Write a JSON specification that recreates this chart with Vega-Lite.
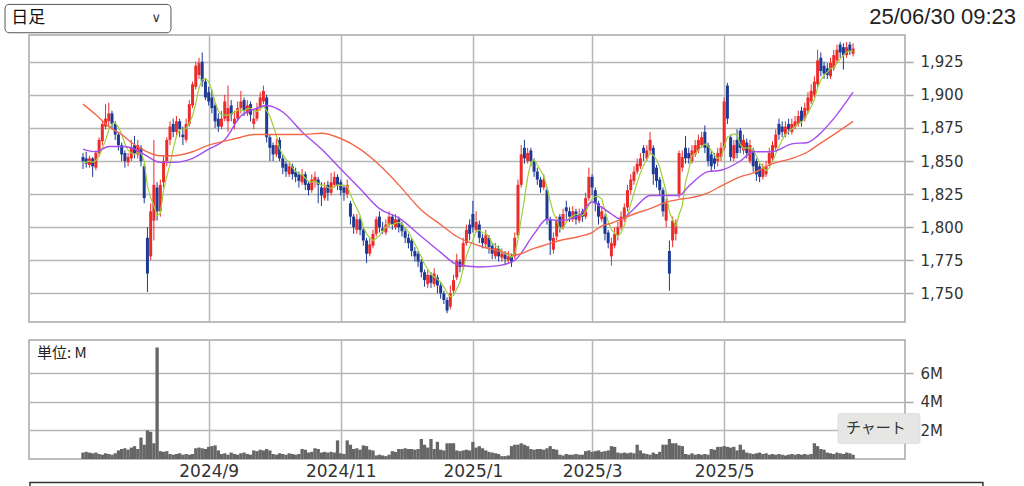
{
"$schema":"https://vega.github.io/schema/vega-lite/v6.json",
"background":"white",
"padding":{"left":3,"top":3,"right":5,"bottom":5},
"spacing":16,
"config":{"view":{"stroke":"#a8a8a8","strokeWidth":1.5},"axis":{"labelFont":"DejaVu Sans","labelColor":"#333","gridColor":"#b6b6b6","gridWidth":1.5,"tickColor":"#a8a8a8","tickWidth":1.5}},
"datasets":{
"k":[
{"i":0,"o":1853,"h":1856,"l":1844,"c":1850,"v":450000,"m":1849},
{"i":1,"o":1852,"h":1857,"l":1845,"c":1848,"v":500000,"m":1849},
{"i":2,"o":1847,"h":1854,"l":1845,"c":1852,"v":450000,"m":1850},
{"i":3,"o":1852,"h":1853,"l":1838,"c":1846,"v":400000,"m":1849},
{"i":4,"o":1845,"h":1858,"l":1843,"c":1856,"v":450000,"m":1850.4},
{"i":5,"o":1856,"h":1868,"l":1853,"c":1866,"v":350000,"m":1853.6},
{"i":6,"o":1865,"h":1880,"l":1862,"c":1878,"v":300000,"m":1859.6},
{"i":7,"o":1876,"h":1893,"l":1874,"c":1882,"v":400000,"m":1865.6},
{"i":8,"o":1880,"h":1894,"l":1876,"c":1886,"v":350000,"m":1873.6},
{"i":9,"o":1886,"h":1888,"l":1874,"c":1878,"v":300000,"m":1878},
{"i":10,"o":1878,"h":1880,"l":1866,"c":1870,"v":400000,"m":1878.8},
{"i":11,"o":1870,"h":1872,"l":1858,"c":1862,"v":600000,"m":1875.6},
{"i":12,"o":1862,"h":1864,"l":1850,"c":1855,"v":700000,"m":1870.2},
{"i":13,"o":1856,"h":1858,"l":1845,"c":1850,"v":750000,"m":1863},
{"i":14,"o":1849,"h":1856,"l":1846,"c":1853,"v":650000,"m":1858},
{"i":15,"o":1852,"h":1866,"l":1850,"c":1860,"v":800000,"m":1856},
{"i":16,"o":1862,"h":1869,"l":1852,"c":1856,"v":900000,"m":1854.8},
{"i":17,"o":1855,"h":1866,"l":1852,"c":1862,"v":700000,"m":1856.2},
{"i":18,"o":1860,"h":1862,"l":1846,"c":1850,"v":1500000,"m":1856.2},
{"i":19,"o":1846,"h":1848,"l":1818,"c":1822,"v":1000000,"m":1850},
{"i":20,"o":1792,"h":1800,"l":1751,"c":1765,"v":2000000,"m":1831},
{"i":21,"o":1778,"h":1818,"l":1775,"c":1812,"v":1900000,"m":1822.2},
{"i":22,"o":1805,"h":1866,"l":1790,"c":1832,"v":1100000,"m":1816.2},
{"i":23,"o":1830,"h":1834,"l":1805,"c":1812,"v":7800000,"m":1808.6},
{"i":24,"o":1812,"h":1836,"l":1808,"c":1832,"v":550000,"m":1810.6},
{"i":25,"o":1834,"h":1854,"l":1830,"c":1850,"v":500000,"m":1827.6},
{"i":26,"o":1850,"h":1868,"l":1846,"c":1866,"v":550000,"m":1838.4},
{"i":27,"o":1866,"h":1880,"l":1862,"c":1876,"v":350000,"m":1847.2},
{"i":28,"o":1878,"h":1882,"l":1868,"c":1872,"v":300000,"m":1859.2},
{"i":29,"o":1872,"h":1884,"l":1868,"c":1880,"v":350000,"m":1868.8},
{"i":30,"o":1880,"h":1882,"l":1868,"c":1874,"v":400000,"m":1873.6},
{"i":31,"o":1870,"h":1876,"l":1862,"c":1868,"v":300000,"m":1874},
{"i":32,"o":1866,"h":1882,"l":1864,"c":1878,"v":350000,"m":1874.4},
{"i":33,"o":1878,"h":1896,"l":1876,"c":1893,"v":300000,"m":1878.6},
{"i":34,"o":1892,"h":1910,"l":1890,"c":1908,"v":350000,"m":1884.2},
{"i":35,"o":1906,"h":1925,"l":1904,"c":1922,"v":750000,"m":1893.8},
{"i":36,"o":1915,"h":1928,"l":1912,"c":1924,"v":800000,"m":1905},
{"i":37,"o":1925,"h":1932,"l":1906,"c":1910,"v":750000,"m":1911.4},
{"i":38,"o":1910,"h":1912,"l":1896,"c":1898,"v":700000,"m":1912.4},
{"i":39,"o":1902,"h":1906,"l":1892,"c":1895,"v":850000,"m":1909.8},
{"i":40,"o":1898,"h":1904,"l":1886,"c":1890,"v":900000,"m":1903.4},
{"i":41,"o":1892,"h":1894,"l":1875,"c":1880,"v":950000,"m":1894.6},
{"i":42,"o":1882,"h":1886,"l":1872,"c":1876,"v":600000,"m":1887.8},
{"i":43,"o":1876,"h":1888,"l":1874,"c":1882,"v":350000,"m":1884.6},
{"i":44,"o":1882,"h":1900,"l":1880,"c":1895,"v":400000,"m":1884.6},
{"i":45,"o":1880,"h":1907,"l":1872,"c":1890,"v":300000,"m":1884.6},
{"i":46,"o":1892,"h":1896,"l":1880,"c":1885,"v":450000,"m":1885.6},
{"i":47,"o":1878,"h":1888,"l":1874,"c":1882,"v":350000,"m":1886.8},
{"i":48,"o":1882,"h":1895,"l":1880,"c":1890,"v":300000,"m":1888.4},
{"i":49,"o":1890,"h":1903,"l":1886,"c":1895,"v":400000,"m":1888.4},
{"i":50,"o":1896,"h":1898,"l":1884,"c":1888,"v":450000,"m":1888},
{"i":51,"o":1886,"h":1896,"l":1884,"c":1892,"v":350000,"m":1889.4},
{"i":52,"o":1893,"h":1895,"l":1880,"c":1885,"v":300000,"m":1890},
{"i":53,"o":1878,"h":1888,"l":1874,"c":1882,"v":600000,"m":1888.4},
{"i":54,"o":1882,"h":1894,"l":1880,"c":1890,"v":550000,"m":1887.4},
{"i":55,"o":1890,"h":1902,"l":1888,"c":1898,"v":650000,"m":1889.4},
{"i":56,"o":1895,"h":1907,"l":1893,"c":1903,"v":600000,"m":1891.6},
{"i":57,"o":1898,"h":1900,"l":1864,"c":1868,"v":700000,"m":1888.2},
{"i":58,"o":1868,"h":1870,"l":1850,"c":1860,"v":600000,"m":1883.8},
{"i":59,"o":1862,"h":1864,"l":1850,"c":1855,"v":350000,"m":1876.8},
{"i":60,"o":1855,"h":1867,"l":1853,"c":1862,"v":300000,"m":1869.6},
{"i":61,"o":1866,"h":1868,"l":1850,"c":1852,"v":400000,"m":1859.4},
{"i":62,"o":1852,"h":1855,"l":1840,"c":1845,"v":350000,"m":1854.8},
{"i":63,"o":1848,"h":1850,"l":1838,"c":1842,"v":300000,"m":1851.2},
{"i":64,"o":1840,"h":1850,"l":1838,"c":1846,"v":400000,"m":1849.4},
{"i":65,"o":1846,"h":1848,"l":1836,"c":1840,"v":350000,"m":1845},
{"i":66,"o":1842,"h":1845,"l":1834,"c":1838,"v":300000,"m":1842.2},
{"i":67,"o":1840,"h":1842,"l":1830,"c":1835,"v":350000,"m":1840.2},
{"i":68,"o":1834,"h":1844,"l":1832,"c":1840,"v":700000,"m":1839.8},
{"i":69,"o":1840,"h":1842,"l":1828,"c":1832,"v":650000,"m":1837},
{"i":70,"o":1833,"h":1835,"l":1824,"c":1828,"v":450000,"m":1834.6},
{"i":71,"o":1828,"h":1840,"l":1826,"c":1836,"v":500000,"m":1834.2},
{"i":72,"o":1834,"h":1842,"l":1830,"c":1838,"v":750000,"m":1834.8},
{"i":73,"o":1836,"h":1838,"l":1818,"c":1832,"v":700000,"m":1833.2},
{"i":74,"o":1830,"h":1834,"l":1816,"c":1824,"v":450000,"m":1831.6},
{"i":75,"o":1822,"h":1834,"l":1820,"c":1830,"v":500000,"m":1832},
{"i":76,"o":1832,"h":1835,"l":1820,"c":1826,"v":450000,"m":1830},
{"i":77,"o":1826,"h":1841,"l":1824,"c":1834,"v":500000,"m":1829.2},
{"i":78,"o":1832,"h":1842,"l":1830,"c":1838,"v":450000,"m":1830.4},
{"i":79,"o":1838,"h":1840,"l":1828,"c":1832,"v":1300000,"m":1832},
{"i":80,"o":1834,"h":1836,"l":1824,"c":1828,"v":400000,"m":1831.6},
{"i":81,"o":1830,"h":1832,"l":1820,"c":1826,"v":350000,"m":1831.6},
{"i":82,"o":1825,"h":1836,"l":1822,"c":1832,"v":1300000,"m":1831.2},
{"i":83,"o":1818,"h":1820,"l":1802,"c":1808,"v":1000000,"m":1825.2},
{"i":84,"o":1808,"h":1810,"l":1795,"c":1800,"v":700000,"m":1818.8},
{"i":85,"o":1798,"h":1810,"l":1795,"c":1806,"v":750000,"m":1814.4},
{"i":86,"o":1806,"h":1808,"l":1794,"c":1798,"v":650000,"m":1808.8},
{"i":87,"o":1798,"h":1800,"l":1786,"c":1790,"v":950000,"m":1800.4},
{"i":88,"o":1790,"h":1792,"l":1773,"c":1780,"v":900000,"m":1794.8},
{"i":89,"o":1780,"h":1792,"l":1778,"c":1787,"v":650000,"m":1792.2},
{"i":90,"o":1786,"h":1798,"l":1784,"c":1795,"v":600000,"m":1790},
{"i":91,"o":1795,"h":1808,"l":1793,"c":1806,"v":250000,"m":1791.6},
{"i":92,"o":1808,"h":1812,"l":1796,"c":1800,"v":300000,"m":1793.6},
{"i":93,"o":1799,"h":1804,"l":1795,"c":1797,"v":250000,"m":1797},
{"i":94,"o":1796,"h":1806,"l":1794,"c":1802,"v":200000,"m":1800},
{"i":95,"o":1802,"h":1812,"l":1800,"c":1808,"v":300000,"m":1802.6},
{"i":96,"o":1808,"h":1810,"l":1798,"c":1802,"v":550000,"m":1801.8},
{"i":97,"o":1800,"h":1810,"l":1798,"c":1806,"v":500000,"m":1803},
{"i":98,"o":1806,"h":1808,"l":1796,"c":1800,"v":700000,"m":1803.6},
{"i":99,"o":1802,"h":1804,"l":1793,"c":1797,"v":700000,"m":1802.6},
{"i":100,"o":1797,"h":1800,"l":1788,"c":1792,"v":750000,"m":1799.4},
{"i":101,"o":1792,"h":1795,"l":1784,"c":1788,"v":700000,"m":1796.6},
{"i":102,"o":1790,"h":1792,"l":1778,"c":1782,"v":700000,"m":1791.8},
{"i":103,"o":1782,"h":1785,"l":1774,"c":1778,"v":650000,"m":1787.4},
{"i":104,"o":1780,"h":1782,"l":1770,"c":1774,"v":700000,"m":1782.8},
{"i":105,"o":1774,"h":1776,"l":1762,"c":1766,"v":1400000,"m":1777.6},
{"i":106,"o":1766,"h":1768,"l":1755,"c":1760,"v":1000000,"m":1772},
{"i":107,"o":1757,"h":1768,"l":1754,"c":1764,"v":800000,"m":1768.4},
{"i":108,"o":1764,"h":1766,"l":1754,"c":1758,"v":1400000,"m":1764.4},
{"i":109,"o":1757,"h":1769,"l":1755,"c":1765,"v":700000,"m":1762.6},
{"i":110,"o":1762,"h":1764,"l":1750,"c":1756,"v":1200000,"m":1760.6},
{"i":111,"o":1756,"h":1758,"l":1746,"c":1750,"v":650000,"m":1758.6},
{"i":112,"o":1750,"h":1752,"l":1742,"c":1745,"v":600000,"m":1754.8},
{"i":113,"o":1745,"h":1747,"l":1735,"c":1737,"v":1100000,"m":1750.6},
{"i":114,"o":1740,"h":1756,"l":1738,"c":1750,"v":1100000,"m":1747.6},
{"i":115,"o":1752,"h":1764,"l":1750,"c":1760,"v":1100000,"m":1748.4},
{"i":116,"o":1762,"h":1780,"l":1760,"c":1775,"v":600000,"m":1753.4},
{"i":117,"o":1774,"h":1776,"l":1766,"c":1770,"v":550000,"m":1758.4},
{"i":118,"o":1770,"h":1792,"l":1768,"c":1788,"v":600000,"m":1768.6},
{"i":119,"o":1788,"h":1802,"l":1786,"c":1798,"v":650000,"m":1778.2},
{"i":120,"o":1802,"h":1806,"l":1790,"c":1795,"v":600000,"m":1785.2},
{"i":121,"o":1810,"h":1820,"l":1796,"c":1800,"v":1200000,"m":1790.2},
{"i":122,"o":1798,"h":1812,"l":1796,"c":1804,"v":800000,"m":1797},
{"i":123,"o":1802,"h":1805,"l":1788,"c":1792,"v":900000,"m":1797.8},
{"i":124,"o":1792,"h":1795,"l":1784,"c":1788,"v":750000,"m":1795.8},
{"i":125,"o":1787,"h":1798,"l":1785,"c":1794,"v":600000,"m":1795.6},
{"i":126,"o":1792,"h":1794,"l":1780,"c":1785,"v":500000,"m":1792.6},
{"i":127,"o":1786,"h":1788,"l":1776,"c":1780,"v":450000,"m":1787.8},
{"i":128,"o":1778,"h":1788,"l":1776,"c":1784,"v":400000,"m":1786.2},
{"i":129,"o":1784,"h":1786,"l":1774,"c":1778,"v":350000,"m":1784.2},
{"i":130,"o":1777,"h":1784,"l":1774,"c":1780,"v":200000,"m":1781.4},
{"i":131,"o":1780,"h":1782,"l":1772,"c":1776,"v":200000,"m":1779.6},
{"i":132,"o":1775,"h":1782,"l":1773,"c":1778,"v":250000,"m":1779.2},
{"i":133,"o":1778,"h":1780,"l":1770,"c":1774,"v":900000,"m":1777.2},
{"i":134,"o":1778,"h":1796,"l":1776,"c":1792,"v":1000000,"m":1780},
{"i":135,"o":1794,"h":1836,"l":1792,"c":1832,"v":1000000,"m":1790.4},
{"i":136,"o":1832,"h":1862,"l":1830,"c":1855,"v":1100000,"m":1806.2},
{"i":137,"o":1860,"h":1866,"l":1848,"c":1852,"v":1000000,"m":1821},
{"i":138,"o":1850,"h":1860,"l":1848,"c":1856,"v":900000,"m":1837.4},
{"i":139,"o":1858,"h":1860,"l":1846,"c":1850,"v":700000,"m":1849},
{"i":140,"o":1850,"h":1852,"l":1838,"c":1842,"v":650000,"m":1851},
{"i":141,"o":1842,"h":1845,"l":1832,"c":1836,"v":700000,"m":1847.2},
{"i":142,"o":1836,"h":1838,"l":1826,"c":1830,"v":700000,"m":1842.8},
{"i":143,"o":1830,"h":1840,"l":1828,"c":1836,"v":650000,"m":1838.8},
{"i":144,"o":1828,"h":1830,"l":1802,"c":1806,"v":750000,"m":1830},
{"i":145,"o":1806,"h":1808,"l":1779,"c":1790,"v":900000,"m":1819.6},
{"i":146,"o":1783,"h":1796,"l":1780,"c":1792,"v":700000,"m":1810.8},
{"i":147,"o":1793,"h":1808,"l":1790,"c":1805,"v":650000,"m":1805.8},
{"i":148,"o":1808,"h":1810,"l":1796,"c":1800,"v":300000,"m":1798.6},
{"i":149,"o":1800,"h":1814,"l":1798,"c":1810,"v":250000,"m":1799.4},
{"i":150,"o":1815,"h":1820,"l":1806,"c":1812,"v":350000,"m":1803.8},
{"i":151,"o":1812,"h":1815,"l":1804,"c":1808,"v":300000,"m":1807},
{"i":152,"o":1806,"h":1816,"l":1804,"c":1812,"v":300000,"m":1808.4},
{"i":153,"o":1812,"h":1814,"l":1802,"c":1806,"v":350000,"m":1809.6},
{"i":154,"o":1805,"h":1814,"l":1803,"c":1810,"v":300000,"m":1809.6},
{"i":155,"o":1812,"h":1814,"l":1804,"c":1808,"v":300000,"m":1808.8},
{"i":156,"o":1808,"h":1826,"l":1806,"c":1822,"v":550000,"m":1811.6},
{"i":157,"o":1822,"h":1845,"l":1820,"c":1838,"v":600000,"m":1816.8},
{"i":158,"o":1838,"h":1840,"l":1824,"c":1830,"v":500000,"m":1821.6},
{"i":159,"o":1828,"h":1830,"l":1812,"c":1818,"v":550000,"m":1823.2},
{"i":160,"o":1818,"h":1820,"l":1802,"c":1808,"v":600000,"m":1823.2},
{"i":161,"o":1806,"h":1816,"l":1804,"c":1812,"v":500000,"m":1821.2},
{"i":162,"o":1808,"h":1810,"l":1790,"c":1795,"v":550000,"m":1812.6},
{"i":163,"o":1796,"h":1798,"l":1784,"c":1788,"v":600000,"m":1804.2},
{"i":164,"o":1778,"h":1792,"l":1771,"c":1788,"v":900000,"m":1798.2},
{"i":165,"o":1786,"h":1800,"l":1784,"c":1795,"v":850000,"m":1795.6},
{"i":166,"o":1794,"h":1804,"l":1790,"c":1800,"v":450000,"m":1793.2},
{"i":167,"o":1800,"h":1812,"l":1798,"c":1808,"v":400000,"m":1795.8},
{"i":168,"o":1806,"h":1818,"l":1804,"c":1815,"v":450000,"m":1801.2},
{"i":169,"o":1815,"h":1832,"l":1812,"c":1828,"v":400000,"m":1809.2},
{"i":170,"o":1828,"h":1840,"l":1825,"c":1836,"v":450000,"m":1817.4},
{"i":171,"o":1835,"h":1846,"l":1832,"c":1842,"v":400000,"m":1825.8},
{"i":172,"o":1842,"h":1852,"l":1840,"c":1848,"v":1000000,"m":1833.8},
{"i":173,"o":1846,"h":1856,"l":1844,"c":1852,"v":600000,"m":1841.2},
{"i":174,"o":1860,"h":1862,"l":1850,"c":1856,"v":400000,"m":1846.8},
{"i":175,"o":1852,"h":1862,"l":1850,"c":1858,"v":350000,"m":1851.2},
{"i":176,"o":1858,"h":1872,"l":1855,"c":1866,"v":300000,"m":1856},
{"i":177,"o":1860,"h":1862,"l":1832,"c":1840,"v":450000,"m":1854.4},
{"i":178,"o":1845,"h":1847,"l":1830,"c":1835,"v":350000,"m":1851},
{"i":179,"o":1836,"h":1838,"l":1824,"c":1828,"v":500000,"m":1845.4},
{"i":180,"o":1828,"h":1830,"l":1808,"c":1812,"v":1000000,"m":1836.2},
{"i":181,"o":1805,"h":1822,"l":1800,"c":1818,"v":1000000,"m":1826.6},
{"i":182,"o":1782,"h":1790,"l":1752,"c":1765,"v":1400000,"m":1811.6},
{"i":183,"o":1790,"h":1808,"l":1785,"c":1805,"v":1100000,"m":1805.6},
{"i":184,"o":1795,"h":1806,"l":1790,"c":1803,"v":1100000,"m":1800.6},
{"i":185,"o":1825,"h":1858,"l":1822,"c":1856,"v":950000,"m":1809.4},
{"i":186,"o":1845,"h":1858,"l":1842,"c":1853,"v":900000,"m":1816.4},
{"i":187,"o":1860,"h":1869,"l":1848,"c":1852,"v":350000,"m":1833.8},
{"i":188,"o":1856,"h":1860,"l":1848,"c":1852,"v":300000,"m":1843.2},
{"i":189,"o":1850,"h":1862,"l":1848,"c":1858,"v":400000,"m":1854.2},
{"i":190,"o":1855,"h":1866,"l":1853,"c":1862,"v":300000,"m":1855.4},
{"i":191,"o":1858,"h":1870,"l":1856,"c":1866,"v":350000,"m":1858},
{"i":192,"o":1862,"h":1872,"l":1860,"c":1868,"v":300000,"m":1861.2},
{"i":193,"o":1872,"h":1877,"l":1856,"c":1860,"v":350000,"m":1862.8},
{"i":194,"o":1862,"h":1864,"l":1846,"c":1850,"v":300000,"m":1861.2},
{"i":195,"o":1855,"h":1858,"l":1842,"c":1846,"v":700000,"m":1858},
{"i":196,"o":1852,"h":1856,"l":1844,"c":1848,"v":650000,"m":1854.4},
{"i":197,"o":1850,"h":1860,"l":1846,"c":1856,"v":850000,"m":1852},
{"i":198,"o":1853,"h":1864,"l":1850,"c":1860,"v":850000,"m":1852},
{"i":199,"o":1860,"h":1898,"l":1858,"c":1895,"v":900000,"m":1861},
{"i":200,"o":1907,"h":1909,"l":1878,"c":1882,"v":850000,"m":1868.2},
{"i":201,"o":1868,"h":1870,"l":1850,"c":1853,"v":800000,"m":1869.2},
{"i":202,"o":1852,"h":1866,"l":1850,"c":1862,"v":850000,"m":1870.4},
{"i":203,"o":1866,"h":1874,"l":1852,"c":1856,"v":600000,"m":1869.6},
{"i":204,"o":1873,"h":1875,"l":1856,"c":1860,"v":1000000,"m":1862.6},
{"i":205,"o":1858,"h":1870,"l":1855,"c":1866,"v":650000,"m":1859.4},
{"i":206,"o":1864,"h":1867,"l":1852,"c":1856,"v":450000,"m":1860},
{"i":207,"o":1850,"h":1866,"l":1848,"c":1862,"v":400000,"m":1860},
{"i":208,"o":1858,"h":1860,"l":1842,"c":1846,"v":350000,"m":1858},
{"i":209,"o":1850,"h":1852,"l":1835,"c":1840,"v":400000,"m":1854},
{"i":210,"o":1846,"h":1848,"l":1834,"c":1838,"v":450000,"m":1848.4},
{"i":211,"o":1838,"h":1848,"l":1836,"c":1844,"v":350000,"m":1846},
{"i":212,"o":1840,"h":1850,"l":1838,"c":1846,"v":400000,"m":1842.8},
{"i":213,"o":1848,"h":1860,"l":1846,"c":1856,"v":300000,"m":1844.8},
{"i":214,"o":1852,"h":1865,"l":1850,"c":1862,"v":350000,"m":1849.2},
{"i":215,"o":1860,"h":1874,"l":1858,"c":1870,"v":300000,"m":1855.6},
{"i":216,"o":1878,"h":1882,"l":1866,"c":1870,"v":350000,"m":1860.8},
{"i":217,"o":1876,"h":1880,"l":1868,"c":1872,"v":300000,"m":1866},
{"i":218,"o":1870,"h":1880,"l":1868,"c":1876,"v":250000,"m":1870},
{"i":219,"o":1878,"h":1882,"l":1870,"c":1874,"v":300000,"m":1872.4},
{"i":220,"o":1872,"h":1882,"l":1870,"c":1878,"v":350000,"m":1874},
{"i":221,"o":1876,"h":1884,"l":1874,"c":1880,"v":300000,"m":1876},
{"i":222,"o":1878,"h":1888,"l":1876,"c":1884,"v":350000,"m":1878.4},
{"i":223,"o":1888,"h":1891,"l":1876,"c":1880,"v":300000,"m":1879.2},
{"i":224,"o":1882,"h":1894,"l":1880,"c":1890,"v":350000,"m":1882.4},
{"i":225,"o":1888,"h":1902,"l":1886,"c":1898,"v":300000,"m":1886.4},
{"i":226,"o":1895,"h":1908,"l":1893,"c":1903,"v":350000,"m":1891},
{"i":227,"o":1900,"h":1914,"l":1898,"c":1910,"v":1100000,"m":1896.2},
{"i":228,"o":1908,"h":1934,"l":1906,"c":1926,"v":900000,"m":1905.4},
{"i":229,"o":1928,"h":1932,"l":1914,"c":1918,"v":700000,"m":1911},
{"i":230,"o":1922,"h":1925,"l":1912,"c":1916,"v":650000,"m":1914.6},
{"i":231,"o":1920,"h":1924,"l":1912,"c":1915,"v":450000,"m":1917},
{"i":232,"o":1914,"h":1928,"l":1912,"c":1924,"v":400000,"m":1919.8},
{"i":233,"o":1920,"h":1934,"l":1918,"c":1930,"v":350000,"m":1920.6},
{"i":234,"o":1926,"h":1938,"l":1924,"c":1934,"v":450000,"m":1923.8},
{"i":235,"o":1938,"h":1940,"l":1928,"c":1932,"v":400000,"m":1927},
{"i":236,"o":1936,"h":1939,"l":1919,"c":1930,"v":350000,"m":1930},
{"i":237,"o":1930,"h":1940,"l":1928,"c":1936,"v":450000,"m":1932.4},
{"i":238,"o":1938,"h":1940,"l":1930,"c":1933,"v":400000,"m":1933},
{"i":239,"o":1931,"h":1939,"l":1929,"c":1935,"v":300000,"m":1933.2}
],
"ma":[
{"i":0,"m25":1859,"m75":1893},{"i":4,"m25":1857,"m75":1885},{"i":8,"m25":1861,"m75":1876},{"i":12,"m25":1861,"m75":1870},
{"i":15,"m25":1860,"m75":1864},{"i":19,"m25":1855,"m75":1858},{"i":24,"m25":1849,"m75":1854},{"i":28,"m25":1849,"m75":1854},
{"i":34,"m25":1852,"m75":1857},{"i":39,"m25":1859,"m75":1862},{"i":44,"m25":1866,"m75":1865},{"i":49,"m25":1884,"m75":1868},
{"i":53,"m25":1889,"m75":1870},{"i":57,"m25":1892,"m75":1870},{"i":62,"m25":1887,"m75":1870},{"i":68,"m25":1872,"m75":1870},
{"i":74,"m25":1859,"m75":1871},{"i":80,"m25":1844,"m75":1867},{"i":86,"m25":1829,"m75":1859},{"i":92,"m25":1814,"m75":1847},
{"i":98,"m25":1807,"m75":1832},{"i":105,"m25":1793,"m75":1813},{"i":111,"m25":1781,"m75":1802},{"i":116,"m25":1772,"m75":1793},
{"i":123,"m25":1770,"m75":1786},{"i":129,"m25":1771,"m75":1782},{"i":134,"m25":1775,"m75":1779},{"i":140,"m25":1795,"m75":1784},
{"i":144,"m25":1806,"m75":1787},{"i":148,"m25":1805,"m75":1790},{"i":154,"m25":1809,"m75":1793},{"i":158,"m25":1819,"m75":1796},
{"i":161,"m25":1815,"m75":1801},{"i":164,"m25":1810,"m75":1803},{"i":167,"m25":1806,"m75":1806},{"i":171,"m25":1814,"m75":1810},
{"i":176,"m25":1824,"m75":1814},{"i":181,"m25":1824,"m75":1819},{"i":185,"m25":1824,"m75":1821},{"i":188,"m25":1831,"m75":1822},
{"i":194,"m25":1842,"m75":1826},{"i":198,"m25":1843,"m75":1831},{"i":204,"m25":1850,"m75":1838},{"i":208,"m25":1857,"m75":1841},
{"i":214,"m25":1857,"m75":1848},{"i":220,"m25":1863,"m75":1852},{"i":225,"m25":1864,"m75":1857},{"i":228,"m25":1869,"m75":1862},
{"i":233,"m25":1882,"m75":1870},{"i":239,"m25":1902,"m75":1880}
]
},
"vconcat":[
{
"width":876,"height":287,
"data":{"name":"k"},
"layer":[
{"mark":{"type":"rule","strokeWidth":1},
 "encoding":{
  "x":{"field":"i","type":"quantitative","title":null,"scale":{"domain":[-16.76,255.12],"nice":false,"zero":false,"padding":0},
       "axis":{"values":[39,80,121,158,199],"labels":false,"ticks":false,"domain":false,"grid":true,"title":null}},
  "y":{"field":"l","type":"quantitative","title":null,"scale":{"domain":[1728.4,1945.2],"nice":false,"zero":false,"padding":0},
       "axis":{"orient":"right","values":[1750,1775,1800,1825,1850,1875,1900,1925],"labelExpr":"format(datum.value, ',')","tickSize":8,"labelFontSize":15,"labelPadding":7,"domain":false,"grid":true,"title":null}},
  "y2":{"field":"h"},
  "color":{"condition":{"test":"datum.c > datum.o","value":"#ee2b2b"},"value":"#1d3b94"}}},
{"mark":{"type":"bar","size":3},
 "encoding":{
  "x":{"field":"i","type":"quantitative","title":null},
  "y":{"field":"o","type":"quantitative","title":null},
  "y2":{"field":"c"},
  "color":{"condition":{"test":"datum.c > datum.o","value":"#ee2b2b"},"value":"#1d3b94"}}},
{"mark":{"type":"line","color":"#9fd03a","strokeWidth":1.2},
 "encoding":{"x":{"field":"i","type":"quantitative","title":null},"y":{"field":"m","type":"quantitative","title":null}}},
{"data":{"name":"ma"},"mark":{"type":"line","color":"#a64cf0","strokeWidth":1.4,"interpolate":"monotone"},
 "encoding":{"x":{"field":"i","type":"quantitative","title":null},"y":{"field":"m25","type":"quantitative","title":null}}},
{"data":{"name":"ma"},"mark":{"type":"line","color":"#f2694a","strokeWidth":1.4,"interpolate":"monotone"},
 "encoding":{"x":{"field":"i","type":"quantitative","title":null},"y":{"field":"m75","type":"quantitative","title":null}}},
{"data":{"values":[{}]},"mark":{"type":"rect","fill":"white","stroke":"#555","strokeWidth":1,"cornerRadius":4},
 "encoding":{"x":{"datum":-24.2,"type":"quantitative","title":null},"x2":{"datum":27.3},"y":{"datum":1968.3,"type":"quantitative","title":null},"y2":{"datum":1946.9}}},
{"data":{"values":[{"t":"日足"}]},"mark":{"type":"text","align":"left","baseline":"middle","font":"Noto Sans CJK JP","fontSize":17,"color":"#111"},
 "encoding":{"x":{"datum":-22.3,"type":"quantitative","title":null},"y":{"datum":1957.8,"type":"quantitative","title":null},"text":{"field":"t"}}},
{"data":{"values":[{"t":"∨"}]},"mark":{"type":"text","align":"center","baseline":"middle","font":"DejaVu Sans","fontSize":13,"color":"#333"},
 "encoding":{"x":{"datum":22.7,"type":"quantitative","title":null},"y":{"datum":1958.3,"type":"quantitative","title":null},"text":{"field":"t"}}},
{"data":{"values":[{"t":"25/06/30 09:23"}]},"mark":{"type":"text","align":"right","baseline":"middle","font":"Liberation Sans","fontSize":22,"color":"#222"},
 "encoding":{"x":{"datum":289.6,"type":"quantitative","title":null},"y":{"datum":1958.6,"type":"quantitative","title":null},"text":{"field":"t"}}}
]
},
{
"width":876,"height":119,
"data":{"name":"k"},
"layer":[
{"mark":{"type":"bar","size":3.3,"color":"#666666"},
 "encoding":{
  "x":{"field":"i","type":"quantitative","title":null,"scale":{"domain":[-16.76,255.12],"nice":false,"zero":false,"padding":0},
       "axis":{"values":[39,80,121,158,199],"labelExpr":"datum.value==39?'2024/9':datum.value==80?'2024/11':datum.value==121?'2025/1':datum.value==158?'2025/3':'2025/5'","ticks":false,"domain":false,"grid":true,"labelFontSize":17,"labelPadding":4,"title":null}},
  "y":{"field":"v","type":"quantitative","title":null,"scale":{"domain":[0,8320000],"nice":false,"padding":0},
       "axis":{"orient":"right","values":[2000000,4000000,6000000],"labelExpr":"(datum.value/1000000)+'M'","tickSize":8,"labelFontSize":15,"labelPadding":7,"domain":false,"grid":true,"title":null}}}},
{"data":{"values":[{"t":"単位: M"}]},"mark":{"type":"text","align":"left","baseline":"middle","font":"Noto Sans CJK JP","fontSize":15,"color":"#222"},
 "encoding":{"x":{"datum":-14.3,"type":"quantitative","title":null},"y":{"datum":7400000,"type":"quantitative","title":null},"text":{"field":"t"}}},
{"data":{"values":[{}]},"mark":{"type":"rect","fill":"#e6e6e4","stroke":"#d0d0d0","strokeWidth":0.5,"cornerRadius":2},
 "encoding":{"x":{"datum":234.3,"type":"quantitative","title":null},"x2":{"datum":259.8},"y":{"datum":3180000,"type":"quantitative","title":null},"y2":{"datum":1080000}}},
{"data":{"values":[{"t":"チャート"}]},"mark":{"type":"text","align":"center","baseline":"middle","font":"Noto Sans CJK JP","fontSize":15,"color":"#333"},
 "encoding":{"x":{"datum":246.1,"type":"quantitative","title":null},"y":{"datum":2140000,"type":"quantitative","title":null},"text":{"field":"t"}}},
{"data":{"values":[{}]},"mark":{"type":"rect","fill":"white","fillOpacity":0,"stroke":"#333","strokeWidth":1.5},
 "encoding":{"x":{"datum":-16.45,"type":"quantitative","title":null},"x2":{"datum":279.3},"y":{"datum":-1650000,"type":"quantitative","title":null},"y2":{"datum":-4000000}}}
]
}
]
}
